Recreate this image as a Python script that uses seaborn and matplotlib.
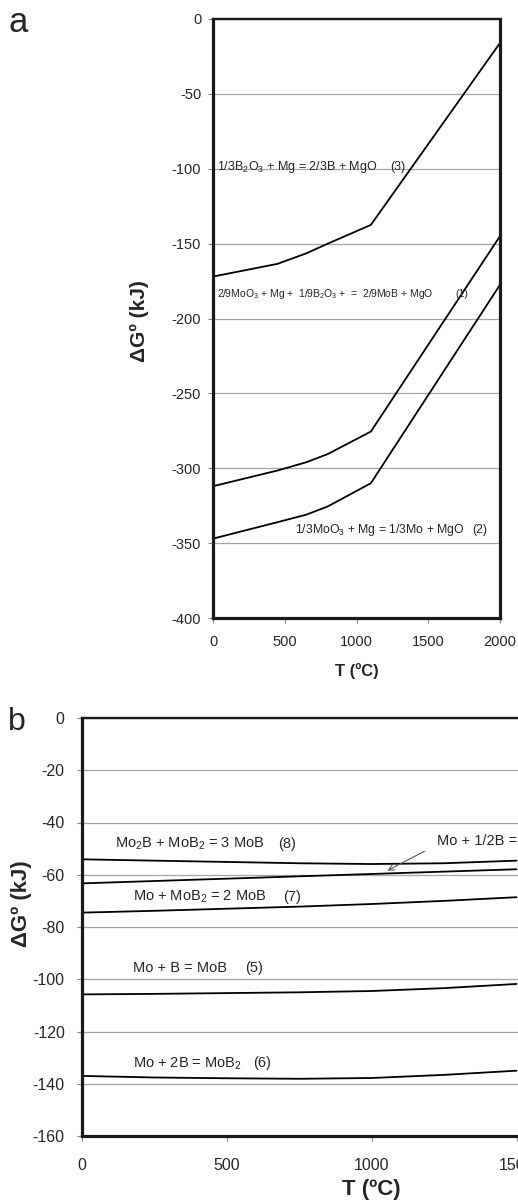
import matplotlib
matplotlib.use("Agg")
import matplotlib.pyplot as plt
import seaborn as sns

# ---- Panel a data ----
T_a = [0, 450, 650, 800, 1100, 2000]
G_r3 = [-172, -163.5, -156.5, -150, -137.5, -16]
G_r1 = [-312, -301.5, -296, -290.5, -275.5, -145]
G_r2 = [-347, -336, -331, -325.5, -310, -177.5]

# ---- Panel b data ----
T_b = [0, 250, 500, 750, 1000, 1250, 1500]
G_r8 = [-54.1, -54.6, -55.1, -55.6, -55.9, -55.6, -54.6]
G_r4 = [-63.3, -62.4, -61.5, -60.6, -59.7, -58.8, -57.9]
G_r7 = [-74.5, -73.8, -73.0, -72.2, -71.2, -70.0, -68.6]
G_r5 = [-105.8, -105.6, -105.3, -105.0, -104.5, -103.4, -101.8]
G_r6 = [-137.0, -137.6, -137.9, -138.1, -137.8, -136.6, -135.0]

yticks_a = list(range(-400, 1, 50))
xticks_a = [0, 500, 1000, 1500, 2000]
yticks_b = list(range(-160, 1, 20))
xticks_b = [0, 500, 1000, 1500, 2000]

sns.set_style("white")
plt.rcParams['font.family'] = ['Liberation Sans', 'DejaVu Sans']
plt.rcParams['mathtext.default'] = 'regular'
plt.rcParams['axes.unicode_minus'] = False

fig = plt.figure(figsize=(5.18, 12.01), dpi=100)
W, H = 518.0, 1201.0


def style_axes(ax, tick_fs, pad_y, pad_x):
    ax.grid(axis='y', color='#a6a6a6', lw=0.9)
    ax.grid(axis='x', visible=False)
    ax.set_axisbelow(True)
    for s in ['left', 'bottom', 'right']:
        ax.spines[s].set_linewidth(2.3)
        ax.spines[s].set_color('#1a1a1a')
    ax.spines['top'].set_linewidth(1.7)
    ax.spines['top'].set_color('#1a1a1a')
    ax.tick_params(axis='both', which='major', length=3.5, width=0.8,
                   color='#888888', labelsize=tick_fs, direction='out')
    ax.tick_params(axis='y', pad=pad_y, left=True)
    ax.tick_params(axis='x', pad=pad_x, bottom=True)
    ax.set_xlabel('')
    ax.set_ylabel('')


# ---------------- Panel a ----------------
axa = fig.add_axes([213 / W, 1 - 618 / H, (500 - 213) / W, (618 - 19) / H])
for G in (G_r3, G_r1, G_r2):
    sns.lineplot(x=T_a, y=G, ax=axa, color='black', lw=1.3)
axa.set_xlim(0, 2000)
axa.set_ylim(-400, 0)
axa.set_yticks(yticks_a)
axa.set_xticks(xticks_a)
style_axes(axa, 10.5, 5, 9)

axa.text(26, -98.8, '1/3B$_2$O$_3$ + Mg = 2/3B + MgO', fontsize=9, ha='left', va='center')
axa.text(1233, -98.8, '(3)', fontsize=9, ha='left', va='center')
axa.text(26, -183.6, '2/9MoO$_3$ + Mg +  1/9B$_2$O$_3$ +  =  2/9MoB + MgO', fontsize=7.5,
         ha='left', va='center')
axa.text(1686, -183.6, '(1)', fontsize=7.5, ha='left', va='center')
axa.text(571, -341.2, '1/3MoO$_3$ + Mg = 1/3Mo + MgO', fontsize=8.8, ha='left', va='center')
axa.text(1810, -341.2, '(2)', fontsize=8.8, ha='left', va='center')

fig.text(18.5 / W, 1 - 22 / H, 'a', fontsize=25, ha='center', va='center')
fig.text(139 / W, 1 - 321.5 / H, 'ΔGº (kJ)', fontsize=15, fontweight='bold',
         rotation=90, ha='center', va='center')
fig.text(357 / W, 1 - 671 / H, 'T (ºC)', fontsize=12, fontweight='bold',
         ha='center', va='center')

# ---------------- Panel b ----------------
px_per_T = (516.5 - 82) / 1500.0
axb = fig.add_axes([82 / W, 1 - 1136 / H, 2000 * px_per_T / W, (1136 - 718) / H])
for G in (G_r8, G_r4, G_r7, G_r5, G_r6):
    sns.lineplot(x=T_b, y=G, ax=axb, color='black', lw=1.3)
axb.set_xlim(0, 2000)
axb.set_ylim(-160, 0)
axb.set_yticks(yticks_b)
axb.set_xticks(xticks_b)
style_axes(axb, 11.5, 9, 12)

fsb = 10.5
axb.text(114, -48.2, 'Mo$_2$B + MoB$_2$ = 3 MoB', fontsize=fsb, ha='left', va='center')
axb.text(678, -48.2, '(8)', fontsize=fsb, ha='left', va='center')
axb.text(1225, -47.1, 'Mo + 1/2B =', fontsize=fsb, ha='left', va='center')
axb.annotate('', xy=(1046, -58.9), xytext=(1191, -50.5),
             arrowprops=dict(arrowstyle='->', color='#555555', lw=0.8))
axb.text(176, -68.4, 'Mo + MoB$_2$ = 2 MoB', fontsize=fsb, ha='left', va='center')
axb.text(694, -68.4, '(7)', fontsize=fsb, ha='left', va='center')
axb.text(176, -95.8, 'Mo + B = MoB', fontsize=fsb, ha='left', va='center')
axb.text(563, -95.8, '(5)', fontsize=fsb, ha='left', va='center')
axb.text(176, -132.2, 'Mo + 2B = MoB$_2$', fontsize=fsb, ha='left', va='center')
axb.text(591, -132.2, '(6)', fontsize=fsb, ha='left', va='center')

fig.text(16.5 / W, 1 - 722 / H, 'b', fontsize=23, ha='center', va='center')
fig.text(22 / W, 1 - 903.5 / H, 'ΔGº (kJ)', fontsize=16, fontweight='bold',
         rotation=90, ha='center', va='center')
fig.text(371 / W, 1 - 1190 / H, 'T (ºC)', fontsize=16, fontweight='bold',
         ha='center', va='center')

fig.savefig('out.png', dpi=100)
